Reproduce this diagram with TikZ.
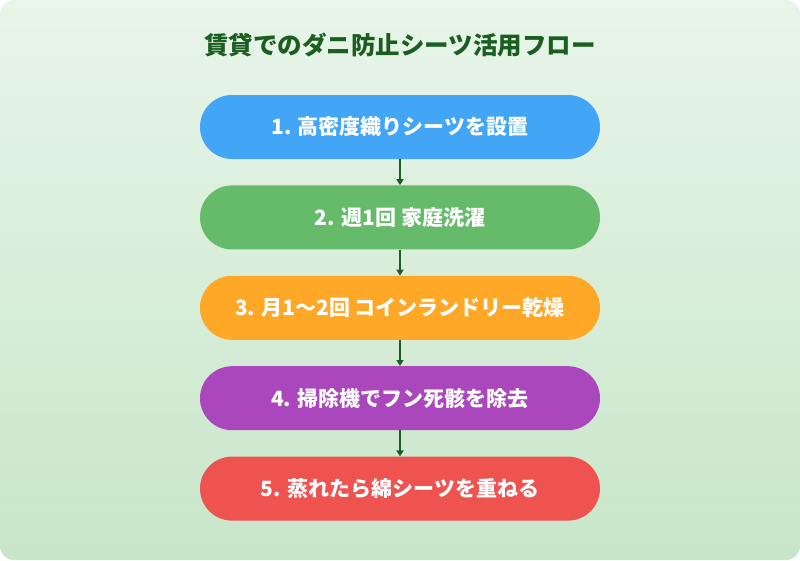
\documentclass[tikz,border=0pt]{standalone}
\usepackage{fontspec}
\setmainfont{Noto Sans CJK JP}
\usetikzlibrary{positioning,arrows.meta}
\definecolor{bgtop}{HTML}{E8F5E9}
\definecolor{bgbot}{HTML}{C8E6C9}
\definecolor{titlegreen}{HTML}{1B5E20}
\definecolor{stepblue}{HTML}{42A5F5}
\definecolor{stepgreen}{HTML}{66BB6A}
\definecolor{steporange}{HTML}{FFA726}
\definecolor{steppurple}{HTML}{AB47BC}
\definecolor{stepred}{HTML}{EF5350}
\tikzset{
  stepbox/.style={rounded corners=32pt, minimum width=400pt, minimum height=64pt,
    text=white, font=\bfseries\fontsize{21pt}{24pt}\selectfont, inner sep=0pt},
  flowarrow/.style={draw=titlegreen, line width=1.5pt, -{Triangle[length=6pt,width=7pt]}}
}
\begin{document}
\begin{tikzpicture}
   \useasboundingbox (0,0) rectangle (800pt,-560pt);
   \shade[top color=bgtop, bottom color=bgbot, rounded corners=14pt] (0,0) rectangle (800pt,-560pt);

\node[text=titlegreen, font=\bfseries\fontsize{24.5pt}{28pt}\selectfont] (title) at (400pt,-45pt) {賃貸でのダニ防止シーツ活用フロー};
\node[stepbox, fill=stepblue] (s1) at (400pt,-127pt) {1. 高密度織りシーツを設置};
\node[stepbox, fill=stepgreen, below=26pt of s1] (s2) {2. 週1回 家庭洗濯};
\node[stepbox, fill=steporange, below=26pt of s2] (s3) {3. 月1〜2回 コインランドリー乾燥};
\node[stepbox, fill=steppurple, below=26pt of s3] (s4) {4. 掃除機でフン死骸を除去};
\node[stepbox, fill=stepred, below=26pt of s4] (s5) {5. 蒸れたら綿シーツを重ねる};

\foreach \a/\b in {s1/s2, s2/s3, s3/s4, s4/s5}
    \draw[flowarrow] (\a) -- (\b);

\end{tikzpicture}
\end{document}
